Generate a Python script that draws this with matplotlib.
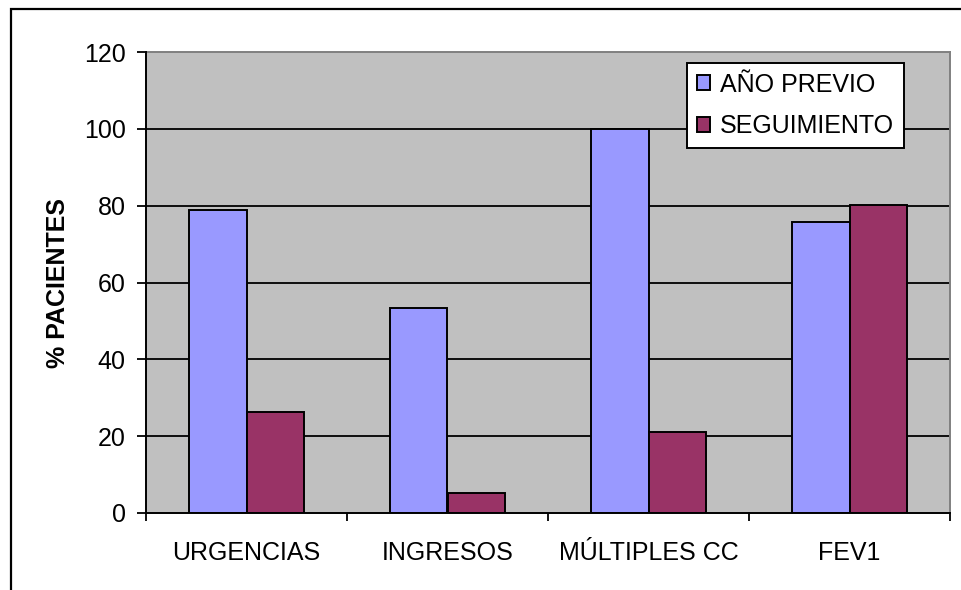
import numpy as np
import matplotlib
matplotlib.use('Agg')
import matplotlib.pyplot as plt
from matplotlib.patches import Rectangle

categorias = ['URGENCIAS', 'INGRESOS', 'MÚLTIPLES CC', 'FEV1']
anio_previo = [78.8, 53.3, 100.0, 75.8]
seguimiento = [26.2, 5.2, 21.0, 80.3]
series = ['AÑO PREVIO', 'SEGUIMIENTO']
yticks = [0, 20, 40, 60, 80, 100, 120]

plt.rcParams['font.family'] = ['Liberation Sans', 'DejaVu Sans']

fig = plt.figure(figsize=(9.62, 5.90), dpi=100)
ax = fig.add_axes([146/962, 1 - 513/590, (950-146)/962, (513-52)/590])
ax.set_facecolor('#C0C0C0')

x = np.arange(len(categorias))
w = 1/3.5
ax.bar(x - w/2, anio_previo, w, color='#9999FF', edgecolor='black', linewidth=1.4,
       label=series[0], zorder=3)
ax.bar(x + w/2, seguimiento, w, color='#993366', edgecolor='black', linewidth=1.4,
       label=series[1], zorder=3)

ax.set_xlim(-0.5, len(categorias) - 0.5)
ax.set_ylim(0, 120)
ax.set_yticks(yticks)
ax.set_xticks(x)
ax.set_xticklabels(categorias)
ax.set_xticks(np.arange(-0.5, len(categorias)), minor=True)
ax.tick_params(axis='x', which='major', length=0, pad=20, labelsize=18)
ax.tick_params(axis='x', which='minor', length=6, width=1.3, direction='out')
ax.tick_params(axis='y', length=6.5, width=1.3, pad=8, labelsize=18)

for v in yticks[1:-1]:
    ax.axhline(v, color='black', linewidth=1.3, zorder=1)

for s in ['left', 'bottom']:
    ax.spines[s].set_color('black')
    ax.spines[s].set_linewidth(1.4)
    ax.spines[s].set_zorder(4)
for s in ['top', 'right']:
    ax.spines[s].set_color('#808080')
    ax.spines[s].set_linewidth(1.4)

ax.set_ylabel('% PACIENTES', fontsize=18, fontweight='bold', labelpad=10)

leg = ax.legend(loc='upper left', bbox_to_anchor=(0.6725, 0.977), borderaxespad=0,
                fontsize=18, frameon=True, fancybox=False, shadow=False,
                handlelength=0.52, handleheight=0.52, handletextpad=0.4,
                borderpad=0.4, labelspacing=0.7)
leg.get_frame().set_edgecolor('black')
leg.get_frame().set_linewidth(1.4)
leg.get_frame().set_facecolor('white')
leg.get_frame().set_alpha(1)
leg.set_zorder(5)

fig.patches.append(Rectangle((11/962, -0.1), 2, 1.1 - 9.3/590,
                             transform=fig.transFigure, fill=False,
                             edgecolor='black', linewidth=1.6))

fig.savefig('out.png', dpi=100)
